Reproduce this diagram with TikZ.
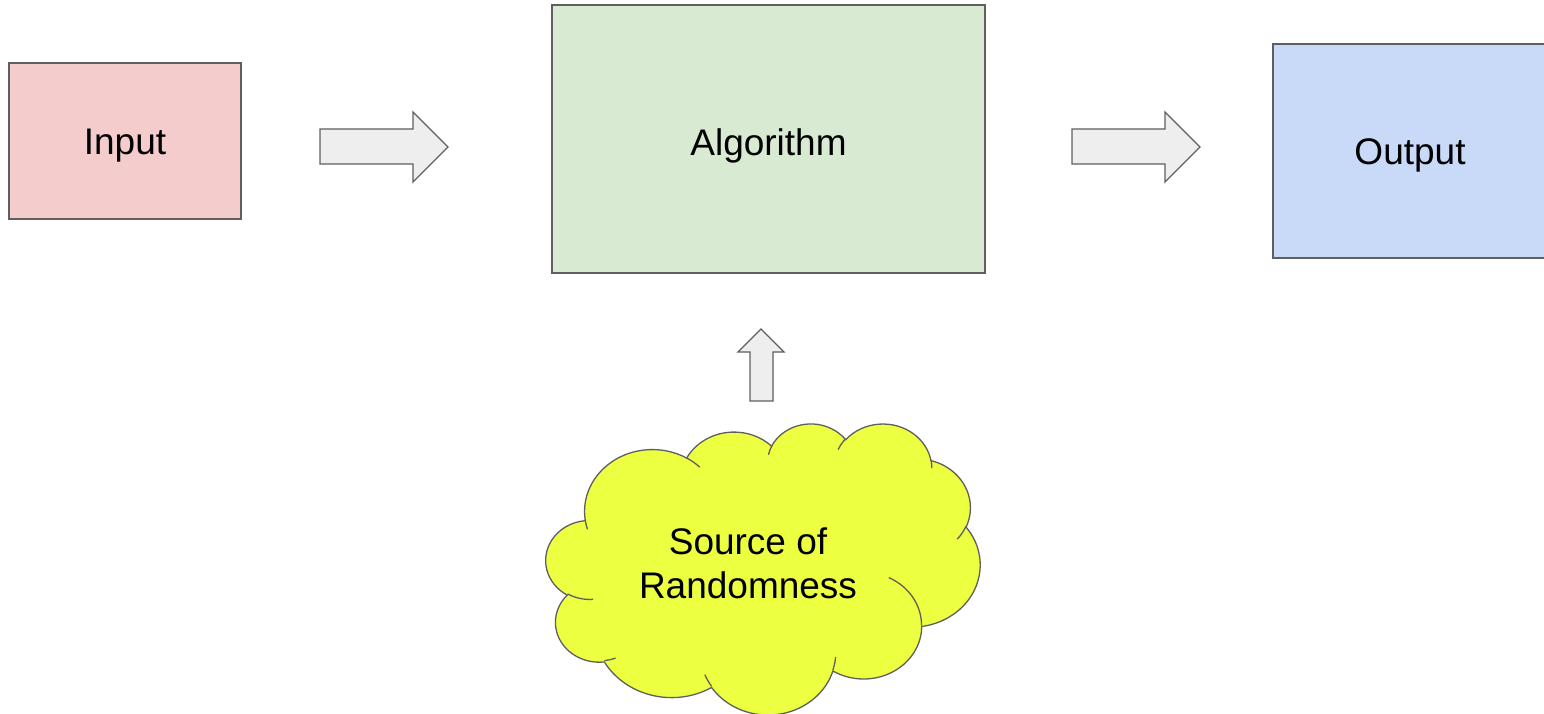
\documentclass[tikz,border=0pt]{standalone}
\usepackage{fontspec}
\setmainfont{Liberation Sans}
\definecolor{inputfill}{HTML}{F4CCCC}
\definecolor{algofill}{HTML}{D9EAD3}
\definecolor{outfill}{HTML}{C9DAF8}
\definecolor{arrowfill}{HTML}{EEEEEE}
\definecolor{cloudfill}{HTML}{ECFF40}
\definecolor{strokegray}{HTML}{5F5F5F}
% elliptical arc in OOXML style: wR hR stAng swAng (visual angles, degrees)
\newcommand\cldarc[4]{%
  \pgfextra{%
    \pgfmathsetmacro\clA{#3}%
    \pgfmathsetmacro\clB{#3+#4}%
    \pgfmathsetmacro\clTa{atan2((#1)*sin(\clA),(#2)*cos(\clA))}%
    \pgfmathsetmacro\clTb{atan2((#1)*sin(\clB),(#2)*cos(\clB))}%
    \pgfmathsetmacro\clTb{\clTb+(\clTb<\clTa)*360}%
    \xdef\gTa{\clTa}\xdef\gTb{\clTb}%
  }%
  arc[start angle=\gTa, end angle=\gTb, x radius=#1pt, y radius=#2pt]}
\tikzset{
  box/.style={draw=strokegray, line width=1.3pt, inner sep=0pt, text height=26.5pt, text depth=0pt, font=\fontsize{37}{44}\selectfont},
  blockarrow/.style={draw=strokegray, fill=arrowfill, line width=1.3pt, line join=miter},
  cloudline/.style={draw=strokegray, line width=1.3pt},
}
\begin{document}
\begin{tikzpicture}[x=1pt,y=-1pt]
\useasboundingbox (0,0) rectangle (1544,714);
\node[box, fill=inputfill, minimum width=232pt, minimum height=156pt] (input) at (125,141) {Input};
\node[box, fill=algofill, minimum width=433pt, minimum height=268pt] (algo) at (768.5,139) {};
\node[box, inner sep=0pt, draw=none] (algotext) at (768.5,142) {Algorithm};
\node[box, fill=outfill, minimum width=274pt, minimum height=214pt] (output) at (1410,151) {Output};
% block arrows
\draw[blockarrow] (320,129) -- (413,129) -- (413,112) -- (448,147) -- (413,182) -- (413,164) -- (320,164) -- cycle;
\draw[blockarrow] (1072,129) -- (1165,129) -- (1165,112) -- (1200,147) -- (1165,182) -- (1165,164) -- (1072,164) -- cycle;
\draw[blockarrow] (750,401) -- (750,352) -- (738,352) -- (761,329) -- (784,352) -- (773,352) -- (773,401) -- cycle;
% cloud
\begin{scope}[shift={(546pt,-423pt)}, x=1pt, y=1pt, xscale=1.00463, yscale=-0.6736]
\path[cloudline, fill=cloudfill] (39.00,143.70)
  \cldarc{67.53}{91.90}{-190.48748}{123.78053}
  \cldarc{53.33}{72.67}{-144.10238}{89.94523}
  \cldarc{43.65}{59.45}{-145.80792}{99.72302}
  \cldarc{48.57}{65.95}{-130.98607}{117.24173}
  \cldarc{53.33}{72.73}{-78.70888}{109.02692}
  \cldarc{67.75}{92.20}{-46.26725}{130.269}
  \cldarc{57.85}{78.67}{0.62502}{114.03333}
  \cldarc{67.52}{92.15}{22.4516}{115.17255}
  \cldarc{77.20}{105.43}{66.24263}{75.71102}
  \cldarc{43.60}{59.18}{-274.94208}{146.73557}
  \cldarc{43.45}{59.45}{-246.8285}{152.51885}
  -- cycle;
\draw[cloudline] (46.93,261.77) \cldarc{43.45}{59.45}{86.742}{26.4295};
\draw[cloudline] (69.28,348.99) \cldarc{43.60}{59.18}{73.61047}{11.44747};
\draw[cloudline] (164.78,390.90) \cldarc{67.52}{92.15}{137.62415}{14.0811};
\draw[cloudline] (288.27,347.51) \cldarc{67.52}{92.15}{6.45327}{15.99835};
\draw[cloudline] (341.29,229.54) \cldarc{57.85}{78.67}{-70.28617}{70.91118};
\draw[cloudline] (417.98,153.54) \cldarc{53.33}{72.73}{30.31803}{19.42487};
\draw[cloudline] (383.24,54.26) \cldarc{48.57}{65.95}{-13.74433}{14.8589};
\draw[cloudline] (290.78,39.52) \cldarc{48.57}{65.95}{-149.18145}{18.19537};
\draw[cloudline] (221.41,47.20) \cldarc{43.65}{59.45}{-163.49427}{17.68635};
\draw[cloudline] (140.00,51.92) \cldarc{67.53}{91.90}{-66.70695}{12.31935};
\draw[cloudline] (41.27,157.89) \cldarc{67.53}{91.90}{157.65435}{11.85817};
\end{scope}
\node[align=center, font=\fontsize{37}{44}\selectfont, inner sep=0pt] (src) at (748,563) {Source of\\Randomness};
\end{tikzpicture}
\end{document}
